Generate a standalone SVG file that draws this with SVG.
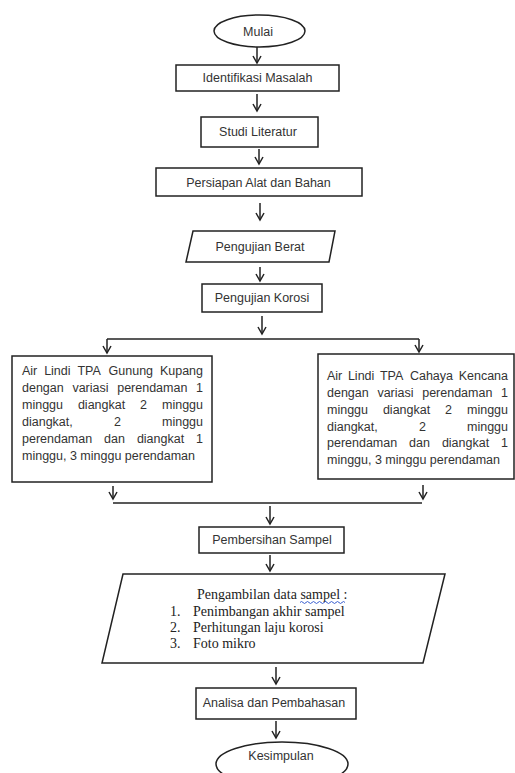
<svg xmlns="http://www.w3.org/2000/svg" width="515" height="773" viewBox="0 0 515 773">
<style>
.shape{fill:#fff;stroke:#222;stroke-width:1.5}
.lbl{font-family:"Liberation Sans",Arial,sans-serif;font-size:12.5px;fill:#333;text-anchor:middle}
.body{font-family:"Liberation Sans",Arial,sans-serif;font-size:12.5px;fill:#333}
.ser{font-family:"Liberation Serif","Times New Roman",serif;font-size:14px;fill:#222}
.ln{fill:none;stroke:#222;stroke-width:1.5}
.e{text-anchor:end}
</style>
<defs>
<marker id="ah" markerWidth="12" markerHeight="12" refX="8" refY="5" orient="auto" markerUnits="userSpaceOnUse" viewBox="0 0 12 10">
<path d="M1,1 L8,5 L1,9" fill="none" stroke="#222" stroke-width="1.5"/>
</marker>
</defs>
<rect width="515" height="773" fill="#fff"/>
<g id="connectors">
<line class="ln" x1="257" y1="47" x2="257" y2="63" marker-end="url(#ah)"/>
<line class="ln" x1="257" y1="94" x2="257" y2="111" marker-end="url(#ah)"/>
<line class="ln" x1="259" y1="149" x2="259" y2="164" marker-end="url(#ah)"/>
<line class="ln" x1="260" y1="203" x2="260" y2="220" marker-end="url(#ah)"/>
<line class="ln" x1="260" y1="267" x2="260" y2="281" marker-end="url(#ah)"/>
<line class="ln" x1="262" y1="316" x2="262" y2="334" marker-end="url(#ah)"/>
<line class="ln" x1="107" y1="339" x2="419" y2="339"/>
<line class="ln" x1="107" y1="339" x2="107" y2="353" marker-end="url(#ah)"/>
<line class="ln" x1="419" y1="339" x2="419" y2="352" marker-end="url(#ah)"/>
<line class="ln" x1="113" y1="486" x2="113" y2="499" marker-end="url(#ah)"/>
<line class="ln" x1="423" y1="485" x2="423" y2="499" marker-end="url(#ah)"/>
<line class="ln" x1="113" y1="503" x2="422" y2="503"/>
<line class="ln" x1="270" y1="506" x2="270" y2="524" marker-end="url(#ah)"/>
<line class="ln" x1="270" y1="555" x2="270" y2="571" marker-end="url(#ah)"/>
<line class="ln" x1="276" y1="667" x2="276" y2="684" marker-end="url(#ah)"/>
<line class="ln" x1="276" y1="721" x2="276" y2="738" marker-end="url(#ah)"/>
</g>
<g id="mulai">
<ellipse class="shape" cx="259.5" cy="31" rx="45.5" ry="16"/>
<text class="lbl" x="258" y="35.5">Mulai</text>
</g>
<g id="identifikasi">
<rect class="shape" x="176" y="65" width="163" height="26"/>
<text class="lbl" x="257.5" y="82">Identifikasi Masalah</text>
</g>
<g id="studi">
<rect class="shape" x="201" y="117" width="117" height="30"/>
<text class="lbl" x="258" y="136">Studi Literatur</text>
</g>
<g id="persiapan">
<rect class="shape" x="156" y="168" width="206" height="28"/>
<text class="lbl" x="258.5" y="186.5">Persiapan Alat dan Bahan</text>
</g>
<g id="berat">
<polygon class="shape" points="193,231 335,231 329,262 186,262"/>
<text class="lbl" x="260" y="251">Pengujian Berat</text>
</g>
<g id="korosi">
<rect class="shape" x="202" y="284" width="120" height="28"/>
<text class="lbl" x="262" y="302">Pengujian Korosi</text>
</g>
<g id="gunung">
<rect class="shape" x="12" y="356" width="200" height="126"/>
<text class="body" y="375"><tspan x="22">Air</tspan><tspan x="44.14">Lindi</tspan><tspan x="77.4">TPA</tspan><tspan x="108.57">Gunung</tspan></text>
<text class="body e" x="203" y="375">Kupang</text>
<text class="body" y="392"><tspan x="22">dengan</tspan><tspan x="72.39">variasi</tspan><tspan x="117.19">perendaman</tspan></text>
<text class="body e" x="203" y="392">1</text>
<text class="body" y="409"><tspan x="22">minggu</tspan><tspan x="77.93">diangkat</tspan><tspan x="140.12">2</tspan></text>
<text class="body e" x="203" y="409">minggu</text>
<text class="body" y="426"><tspan x="22">diangkat,</tspan><tspan x="113.9">2</tspan></text>
<text class="body e" x="203" y="426">minggu</text>
<text class="body" y="443"><tspan x="22">perendaman</tspan><tspan x="104.1">dan</tspan><tspan x="136.88">diangkat</tspan></text>
<text class="body e" x="203" y="443">1</text>
<text class="body" x="22" y="460">minggu, 3 minggu perendaman</text>
</g>
<g id="cahaya">
<rect class="shape" x="318" y="354" width="196" height="125"/>
<text class="body" y="380"><tspan x="327">Air</tspan><tspan x="347.93">Lindi</tspan><tspan x="379.98">TPA</tspan><tspan x="409.94">Cahaya</tspan></text>
<text class="body e" x="508" y="380">Kencana</text>
<text class="body" y="397"><tspan x="327">dengan</tspan><tspan x="377.39">variasi</tspan><tspan x="422.19">perendaman</tspan></text>
<text class="body e" x="508" y="397">1</text>
<text class="body" y="414"><tspan x="327">minggu</tspan><tspan x="382.93">diangkat</tspan><tspan x="445.12">2</tspan></text>
<text class="body e" x="508" y="414">minggu</text>
<text class="body" y="430.5"><tspan x="327">diangkat,</tspan><tspan x="418.9">2</tspan></text>
<text class="body e" x="508" y="430.5">minggu</text>
<text class="body" y="447"><tspan x="327">perendaman</tspan><tspan x="409.1">dan</tspan><tspan x="441.88">diangkat</tspan></text>
<text class="body e" x="508" y="447">1</text>
<text class="body" x="327" y="464">minggu, 3 minggu perendaman</text>
</g>
<g id="pembersihan">
<rect class="shape" x="199" y="527" width="145" height="26"/>
<text class="lbl" x="272" y="544">Pembersihan Sampel</text>
</g>
<g id="pengambilan">
<polygon class="shape" points="123,574 445,574 423,663 102,663"/>
<text class="ser" x="197" y="599">Pengambilan data sampel :</text>
<path d="M300,602.5 q1.5,-2 3,0 t3,0 t3,0 t3,0 t3,0 t3,0 t3,0 t3,0 t3,0 t3,0 t3,0 t3,0 t3,0 t3,0 t3,0" fill="none" stroke="#3a5fd0" stroke-width="1"/>
<text class="ser" x="170" y="615.5">1.</text>
<text class="ser" x="193" y="615.5">Penimbangan akhir sampel</text>
<text class="ser" x="170" y="632">2.</text>
<text class="ser" x="193" y="632">Perhitungan laju korosi</text>
<text class="ser" x="170" y="648">3.</text>
<text class="ser" x="193" y="648">Foto mikro</text>
</g>
<g id="analisa">
<rect class="shape" x="196" y="688" width="160" height="31"/>
<text class="lbl" x="274" y="706.5">Analisa dan Pembahasan</text>
</g>
<g id="kesimpulan">
<ellipse class="shape" cx="282" cy="764" rx="66" ry="22"/>
<text class="lbl" x="281" y="760">Kesimpulan</text>
</g>
</svg>
